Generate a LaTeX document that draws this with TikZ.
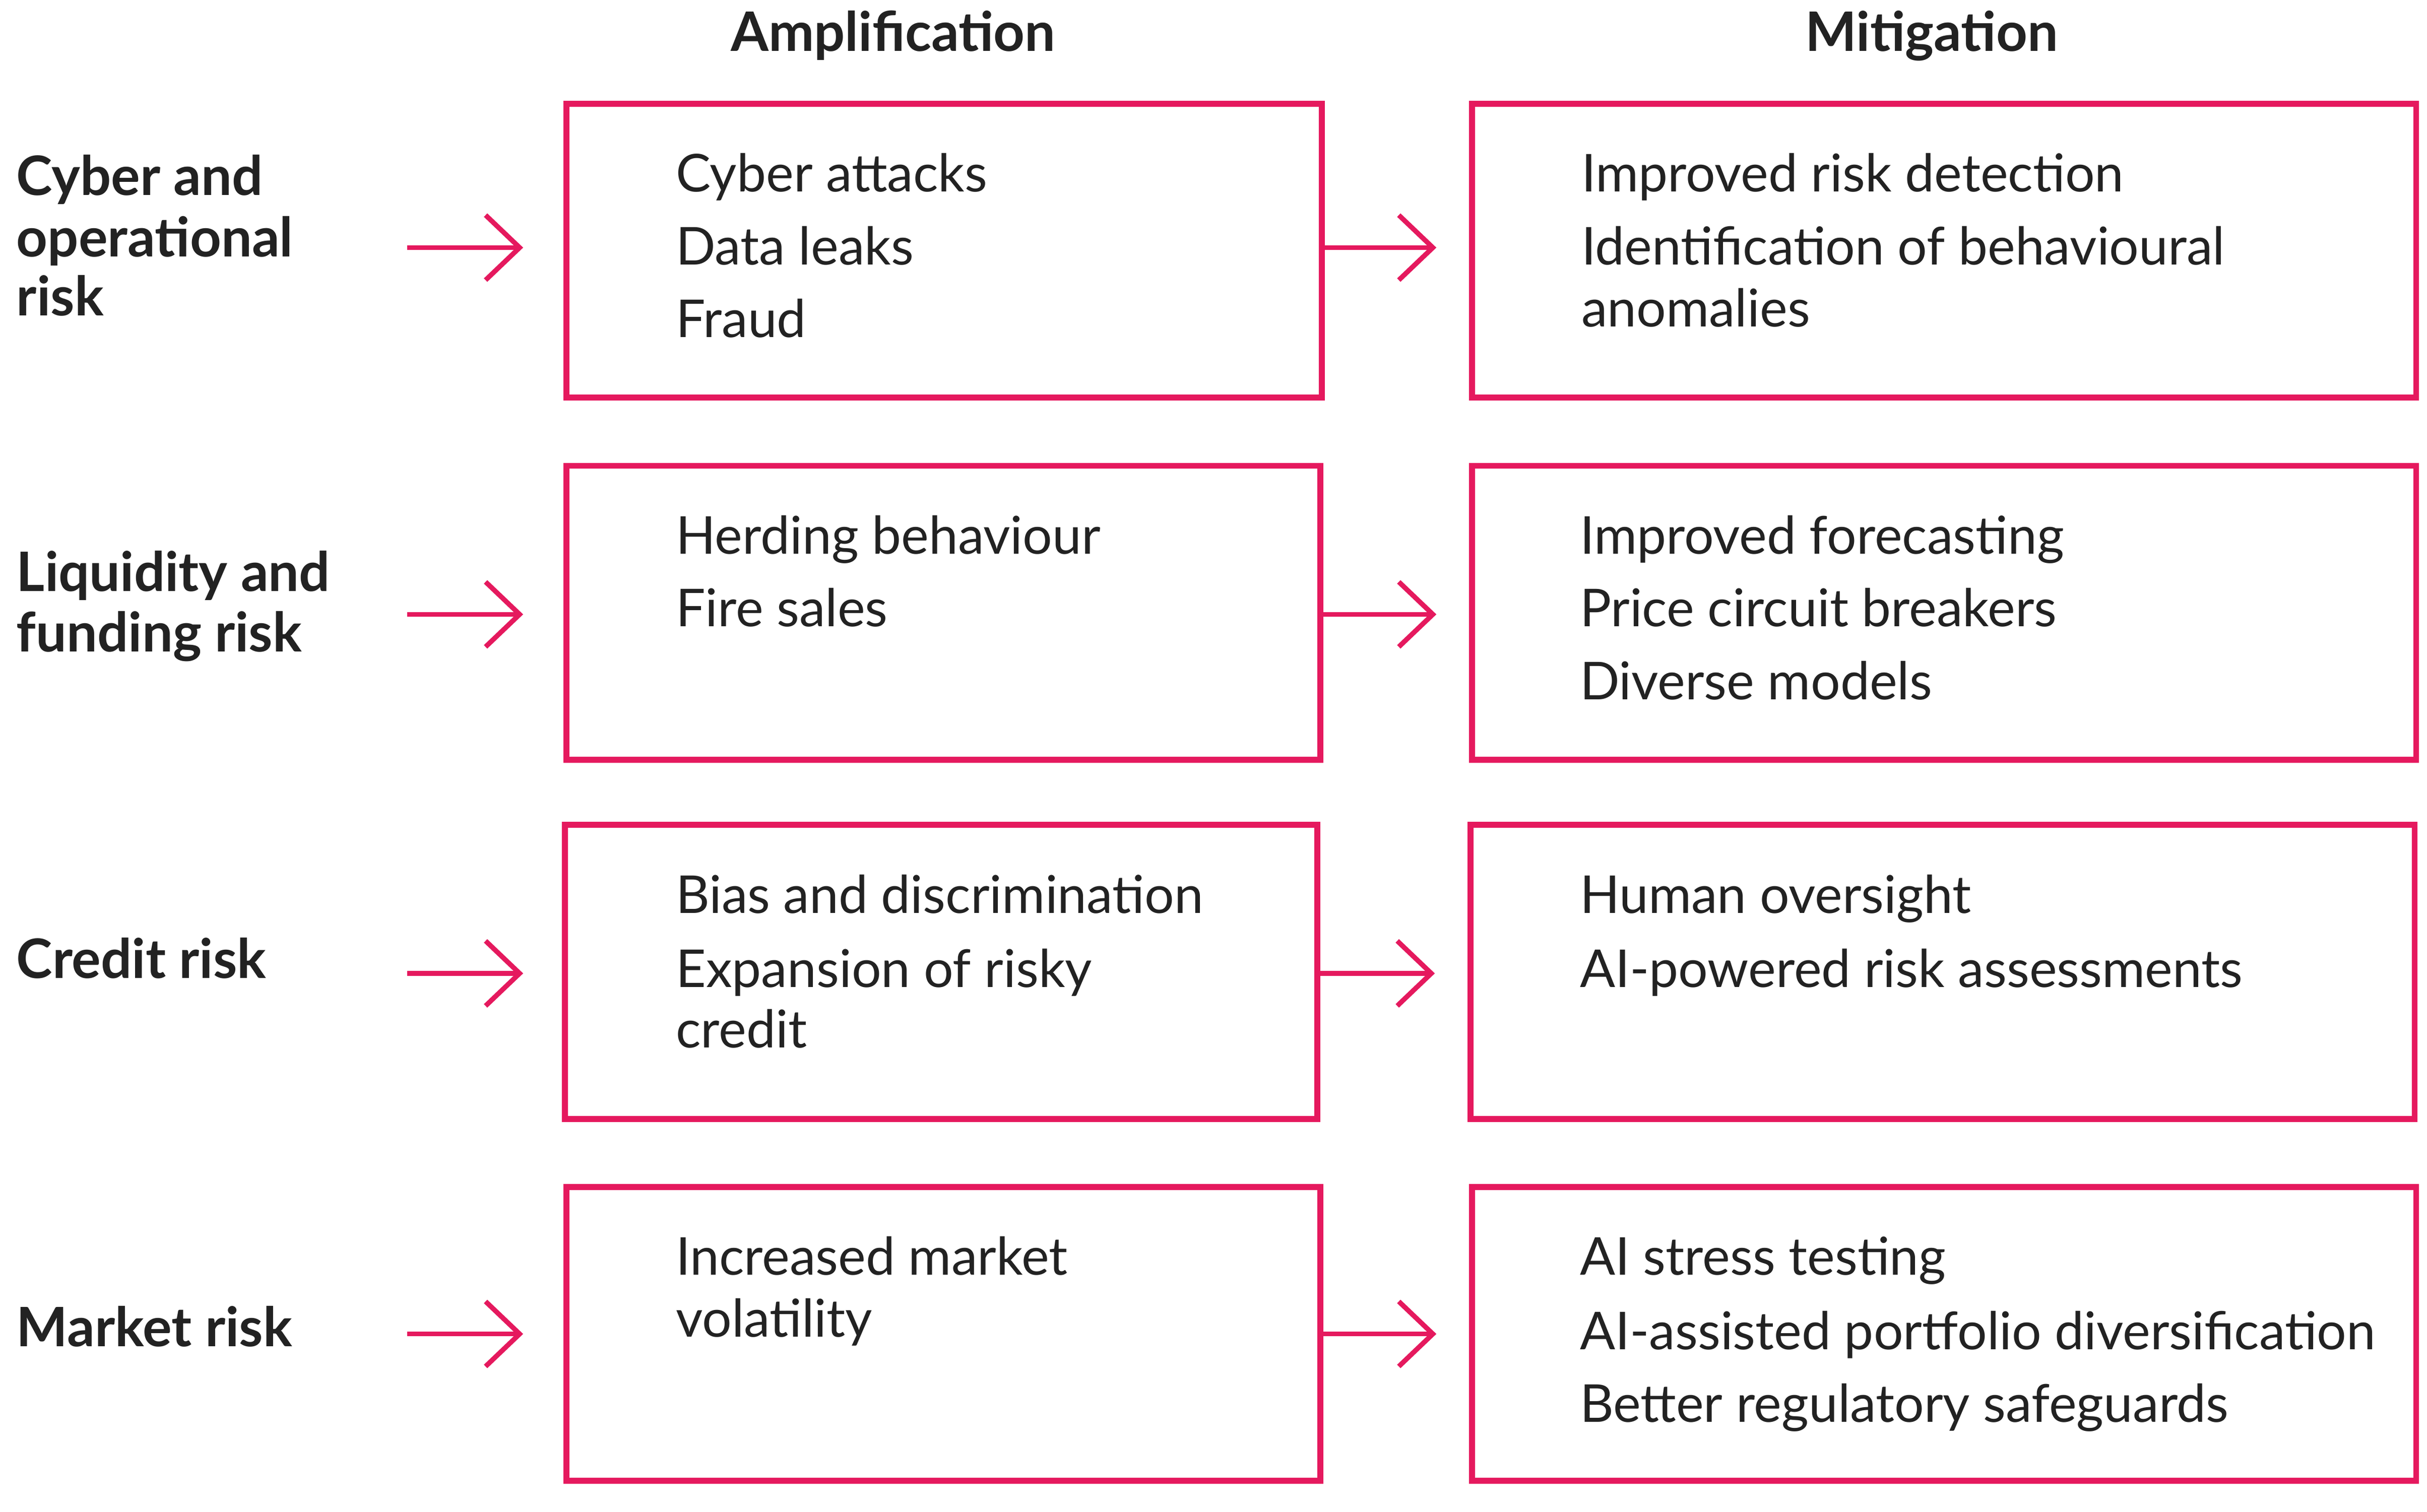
\documentclass[tikz,border=0pt]{standalone}
\usepackage{fontspec}
\setmainfont{Lato}
\usetikzlibrary{arrows.meta}
\definecolor{riskpink}{HTML}{E5195E}
\definecolor{inkgrey}{HTML}{222222}
\tikzset{
  box/.style={draw=riskpink, line width=1.1pt, rectangle, inner sep=0pt},
  item/.style={anchor=base west, inner sep=0pt, text=inkgrey, font=\fontsize{9.6}{11}\selectfont},
  risk/.style={anchor=base west, inner sep=0pt, text=inkgrey, font=\fontsize{10}{11}\selectfont\bfseries},
  head/.style={anchor=base, inner sep=0pt, text=inkgrey, font=\fontsize{10}{11}\selectfont\bfseries},
  arr/.style={draw=riskpink, line width=0.9pt, -{Straight Barb[length=2.2mm,width=4.2mm]}}
}
\begin{document}
\begin{tikzpicture}[x=0.1mm,y=-0.1mm]
  \useasboundingbox (0,0) rectangle (1568,977);

  % column headings
  \node[head] (hamp) at (577,33) {Amplification};
  \node[head] (hmit) at (1248,33) {Mitigation};

  % boxes
  \draw[box] (366,67) rectangle (854,257);
  \draw[box] (951,67) rectangle (1561,257);
  \draw[box] (366,301) rectangle (853,491);
  \draw[box] (951,301) rectangle (1561,491);
  \draw[box] (365,533) rectangle (851,723);
  \draw[box] (950,533) rectangle (1560,723);
  \draw[box] (366,767) rectangle (853,957);
  \draw[box] (951,767) rectangle (1561,957);

  % risk labels
  \node[risk] (cyb1) at (10,126) {Cyber and};
  \node[risk] (cyb2) at (10,166) {operational};
  \node[risk] (cyb3) at (10,204) {risk};
  \node[risk] (liq1) at (10,382) {Liquidity and};
  \node[risk] (liq2) at (10,421) {funding risk};
  \node[risk] (cre) at (10,632) {Credit risk};
  \node[risk] (mkt) at (10,870) {Market risk};

  % amplification items
  \node[item] (a11) at (436,124) {Cyber attacks};
  \node[item] (a12) at (436,171) {Data leaks};
  \node[item] (a13) at (436,218) {Fraud};
  \node[item] (a21) at (436,358) {Herding behaviour};
  \node[item] (a22) at (436,405) {Fire sales};
  \node[item] (a31) at (436,590) {Bias and discrimination};
  \node[item] (a32) at (436,638) {Expansion of risky};
  \node[item] (a33) at (436,677) {credit};
  \node[item] (a41) at (436,824) {Increased market};
  \node[item] (a42) at (436,864) {volatility};

  % mitigation items
  \node[item] (m11) at (1021,124) {Improved risk detection};
  \node[item] (m12) at (1021,171) {Identification of behavioural};
  \node[item] (m13) at (1021,211) {anomalies};
  \node[item] (m21) at (1020,358) {Improved forecasting};
  \node[item] (m22) at (1020,405) {Price circuit breakers};
  \node[item] (m23) at (1020,452) {Diverse models};
  \node[item] (m31) at (1020,590) {Human oversight};
  \node[item] (m32) at (1020,638) {AI-powered risk assessments};
  \node[item] (m41) at (1020,824) {AI stress testing};
  \node[item] (m42) at (1020,872) {AI-assisted portfolio diversification};
  \node[item] (m43) at (1020,919) {Better regulatory safeguards};

  % arrow ends
  \coordinate (l1) at (263,160); \coordinate (r1) at (338,160);
  \coordinate (l2) at (263,397); \coordinate (r2) at (338,397);
  \coordinate (l3) at (263,629); \coordinate (r3) at (338,629);
  \coordinate (l4) at (263,862); \coordinate (r4) at (338,862);
  \coordinate (p1) at (855,160); \coordinate (q1) at (928,160);
  \coordinate (p2) at (854,397); \coordinate (q2) at (928,397);
  \coordinate (p3) at (852,629); \coordinate (q3) at (927,629);
  \coordinate (p4) at (854,862); \coordinate (q4) at (928,862);

  \draw[arr] (l1) -- (r1);
  \draw[arr] (l2) -- (r2);
  \draw[arr] (l3) -- (r3);
  \draw[arr] (l4) -- (r4);
  \draw[arr] (p1) -- (q1);
  \draw[arr] (p2) -- (q2);
  \draw[arr] (p3) -- (q3);
  \draw[arr] (p4) -- (q4);
\end{tikzpicture}
\end{document}
